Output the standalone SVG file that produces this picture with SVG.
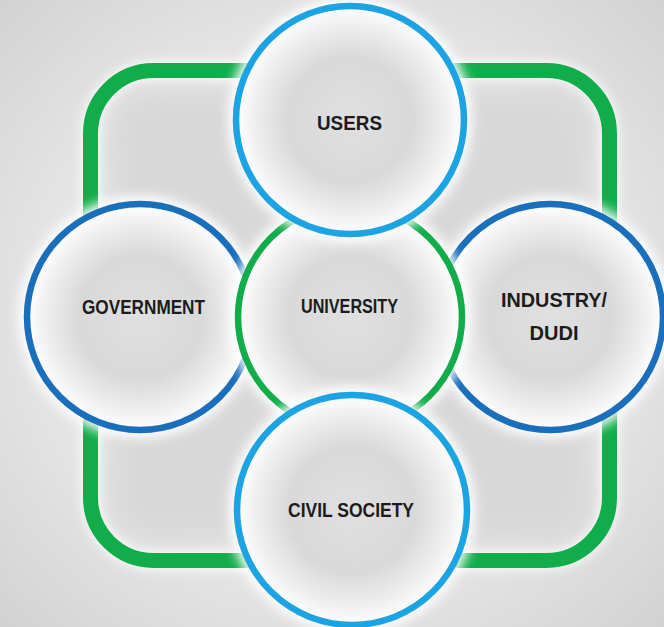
<svg xmlns="http://www.w3.org/2000/svg" width="664" height="627" viewBox="0 0 664 627">
  <defs>
    <radialGradient id="bg" cx="50%" cy="50%" r="75%">
      <stop offset="0" stop-color="#f0f0f0"/>
      <stop offset="0.6" stop-color="#e4e4e4"/>
      <stop offset="1" stop-color="#cfcfcf"/>
    </radialGradient>
    <radialGradient id="cfill" cx="50%" cy="50%" r="50%">
      <stop offset="0" stop-color="#e0e0e0"/>
      <stop offset="0.55" stop-color="#d9d9d9"/>
      <stop offset="0.85" stop-color="#f0f0f0"/>
      <stop offset="1" stop-color="#ffffff"/>
    </radialGradient>
    <filter id="glow" x="-20%" y="-20%" width="140%" height="140%">
      <feGaussianBlur stdDeviation="6"/>
    </filter>
    <filter id="soft" x="-20%" y="-20%" width="140%" height="140%">
      <feGaussianBlur stdDeviation="14"/>
    </filter>
    <style>
      .lbl { font-family: "Liberation Sans", Arial, sans-serif; font-weight: bold; font-size: 20px; fill: #1c1c1c; text-anchor: middle; }
      .ring { fill: url(#cfill); stroke-width: 6.5; }
      .light { stroke: #1ca3e3; }
      .dark { stroke: #1a6fbd; }
      .green { stroke: #10ad4a; }
      .halo { fill: none; stroke: #ffffff; stroke-width: 16; filter: url(#glow); }
    </style>
  </defs>

  <rect x="0" y="0" width="664" height="627" fill="url(#bg)"/>
  <rect x="110" y="90" width="480" height="450" rx="40" fill="#d8d8d8" filter="url(#soft)"/>

  <g id="connectors">
    <rect x="90.5" y="70.5" width="519" height="490" rx="63" class="halo" stroke-width="26"/>
    <rect id="frame" x="90.5" y="70.5" width="519" height="490" rx="63" fill="none" stroke="#10ad4a" stroke-width="15"/>
  </g>

  <g id="government">
    <circle cx="140" cy="317" r="113" class="halo"/>
    <circle cx="140" cy="317" r="113" class="ring dark"/>
    <text x="143.5" y="314" class="lbl" textLength="123" lengthAdjust="spacingAndGlyphs">GOVERNMENT</text>
  </g>

  <g id="industry">
    <circle cx="550" cy="317" r="113" class="halo"/>
    <circle cx="550" cy="317" r="113" class="ring dark"/>
    <text x="554" y="307" class="lbl" textLength="106" lengthAdjust="spacingAndGlyphs">INDUSTRY/</text>
    <text x="554" y="340" class="lbl" textLength="49" lengthAdjust="spacingAndGlyphs">DUDI</text>
  </g>

  <g id="university">
    <circle cx="350" cy="317" r="112" class="halo"/>
    <circle cx="350" cy="317" r="112" class="ring green" stroke-width="5.5"/>
    <text x="349.5" y="313" class="lbl" textLength="97" lengthAdjust="spacingAndGlyphs">UNIVERSITY</text>
  </g>

  <g id="users">
    <circle cx="350" cy="120" r="114" class="halo"/>
    <circle cx="350" cy="120" r="114" class="ring light"/>
    <text x="349.5" y="130" class="lbl" textLength="65" lengthAdjust="spacingAndGlyphs">USERS</text>
  </g>

  <g id="civil-society">
    <circle cx="352" cy="510" r="115" class="halo"/>
    <circle cx="352" cy="510" r="115" class="ring light"/>
    <text x="351" y="517" class="lbl" textLength="126" lengthAdjust="spacingAndGlyphs">CIVIL SOCIETY</text>
  </g>
</svg>
